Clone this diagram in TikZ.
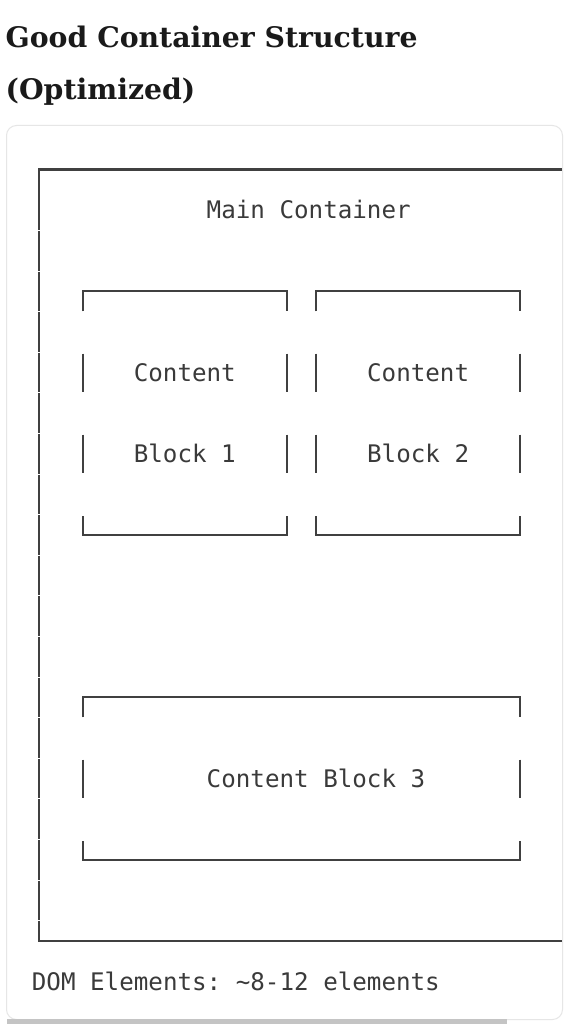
\documentclass[tikz,border=0pt]{standalone}
\usepackage{fontspec}
\setmonofont{DejaVu Sans Mono}
\newfontfamily\titlefont{DejaVu Serif}
\definecolor{inkline}{HTML}{404040}
\definecolor{inktext}{HTML}{3A3A3A}
\definecolor{titleink}{HTML}{1A1A1A}
\definecolor{cardline}{HTML}{E6E6E6}
\definecolor{barfill}{HTML}{C4C4C4}
\tikzset{
  boxline/.style={draw=inkline, line width=2.1pt, line join=miter},
  asciitext/.style={font=\ttfamily\fontsize{24.2}{29}\selectfont, text=inktext, inner sep=0pt, anchor=base},
  titletext/.style={font=\titlefont\bfseries\fontsize{28.3}{34}\selectfont, text=titleink, inner sep=0pt, anchor=base west},
}
\begin{document}
\begin{tikzpicture}[x=1pt,y=-1pt]
\useasboundingbox (0,0) rectangle (585,1024);
\fill[white] (0,0) rectangle (585,1024);
% card and scroll bar
\draw[cardline, line width=1pt, rounded corners=10pt] (6.5,125.5) rectangle (562.5,1019.5);
\fill[barfill] (7,1019) rectangle (507,1023.5);
% title
\node[titletext] (title1) at (5.5,47.5) {Good Container Structure};
\node[titletext] (title2) at (5.5,100) {(Optimized)};
% main container
\draw[boxline] (39,189.8) -- (39,169.5) -- (562,169.5);
\foreach \k in {1,...,18}{
  \draw[boxline] (39,{169.5+40.6*\k-19.8}) -- (39,{169.5+40.6*\k+19.8});
}
\draw[boxline] (39,920.6) -- (39,941) -- (562,941);
\node[asciitext] (main) at (308.7,{169.5+40.6*1+8.8}) {Main Container};
% small boxes (rows 3..9)
\foreach \xl/\xr in {82.74/286.86, 316.0/520.1}{
  \draw[boxline] (\xl,{291.3+20}) -- (\xl,291.3) -- (\xr,291.3) -- (\xr,{291.3+20});
  \foreach \k in {5,7}{
    \draw[boxline] (\xl,{169.5+40.6*\k-19}) -- (\xl,{169.5+40.6*\k+19});
    \draw[boxline] (\xr,{169.5+40.6*\k-19}) -- (\xr,{169.5+40.6*\k+19});
  }
  \draw[boxline] (\xl,{534.9-18.5}) -- (\xl,534.9) -- (\xr,534.9) -- (\xr,{534.9-18.5});
}
\node[asciitext] (c1a) at (184.8,{169.5+40.6*5+8.8}) {Content};
\node[asciitext] (c1b) at (184.8,{169.5+40.6*7+8.8}) {Block 1};
\node[asciitext] (c2a) at (418.1,{169.5+40.6*5+8.8}) {Content};
\node[asciitext] (c2b) at (418.1,{169.5+40.6*7+8.8}) {Block 2};
% content block 3 (rows 13..17)
\draw[boxline] (82.74,{697.3+20}) -- (82.74,697.3) -- (520.1,697.3) -- (520.1,{697.3+20});
\draw[boxline] (82.74,{778.5-19}) -- (82.74,{778.5+19});
\draw[boxline] (520.1,{778.5-19}) -- (520.1,{778.5+19});
\draw[boxline] (82.74,{859.7-18.5}) -- (82.74,859.7) -- (520.1,859.7) -- (520.1,{859.7-18.5});
\node[asciitext] (c3) at (316.0,{778.5+8.8}) {Content Block 3};
% footer
\node[asciitext, anchor=base west] (dom) at (31.7,{981.6+8.8}) {DOM Elements: \textasciitilde8-12 elements};
\end{tikzpicture}
\end{document}
